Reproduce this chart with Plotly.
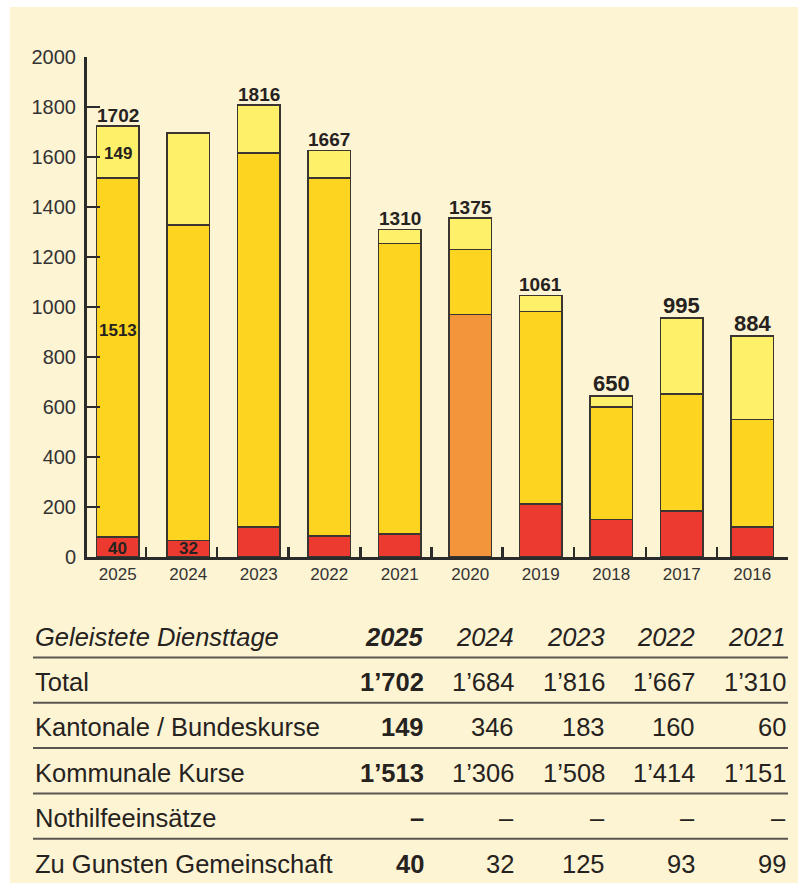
import plotly.graph_objects as go

# ---------------- data ----------------
years = ["2025", "2024", "2023", "2022", "2021", "2020", "2019", "2018", "2017", "2016"]
# segment heights as drawn in the chart
zu_gunsten = [80, 67, 120, 84, 93, 0, 213, 151, 184, 120]          # red
nothilfe = [0, 0, 0, 0, 0, 970, 0, 0, 0, 0]                         # orange
kommunale = [1436, 1262, 1496, 1432, 1161, 260, 770, 449, 468, 431]  # yellow
kantonale = [208, 368, 192, 111, 57, 126, 64, 45, 304, 333]         # light yellow
total_labels = ["1702", "", "1816", "1667", "1310", "1375", "1061", "650", "995", "884"]

# labels written inside the 2025 / 2024 bars: (year, value position, text)
inside_years = ["2025", "2025", "2025", "2024"]
inside_pos = [1614, 907, 35, 33]
inside_text = ["149", "1513", "40", "32"]

y_ticks = [0, 200, 400, 600, 800, 1000, 1200, 1400, 1600, 1800, 2000]

# table
table_title = "Geleistete Diensttage"
table_years = ["2025", "2024", "2023", "2022", "2021"]
row_labels = ["Total", "Kantonale / Bundeskurse", "Kommunale Kurse", "Nothilfeeinsätze", "Zu Gunsten Gemeinschaft"]
row_total = ["1’702", "1’684", "1’816", "1’667", "1’310"]
row_kantonale = ["149", "346", "183", "160", "60"]
row_kommunale = ["1’513", "1’306", "1’508", "1’414", "1’151"]
row_nothilfe = ["–", "–", "–", "–", "–"]
row_zugunsten = ["40", "32", "125", "93", "99"]

# ---------------- styling ----------------
W, H = 798, 883
ML, MR, MT, MB = 87, 10, 57, 326
PW, PH = W - ML - MR, H - MT - MB
BG = "#FDF4D4"
INK = "#262220"
EDGE = "#3a3530"
C_RED = "#EC3A30"
C_ORANGE = "#F3953A"
C_YELLOW = "#FDD520"
C_LIGHT = "#FFF06A"
SANS = "Liberation Sans, Arial, Helvetica, sans-serif"
wide_label_years = {"2018", "2017", "2016"}


def px_x(px):
    return (px - ML) / PW


def px_y(py):
    return (MT + PH - py) / PH


xs = list(range(len(years)))
fig = go.Figure()
for vals, col, name in [(zu_gunsten, C_RED, "Zu Gunsten Gemeinschaft"),
                        (nothilfe, C_ORANGE, "Nothilfeeinsätze"),
                        (kommunale, C_YELLOW, "Kommunale Kurse"),
                        (kantonale, C_LIGHT, "Kantonale / Bundeskurse")]:
    fig.add_trace(go.Bar(x=xs, y=vals, name=name, width=0.6,
                         marker=dict(color=col, line=dict(color=EDGE, width=1.5)),
                         hoverinfo="skip"))

# invisible trace for the second x axis (between-category tick marks)
fig.add_trace(go.Scatter(x=[0], y=[0], xaxis="x2", mode="markers",
                         marker=dict(opacity=0), hoverinfo="skip", showlegend=False))

annotations = []
totals = [a + b + c + d for a, b, c, d in zip(zu_gunsten, nothilfe, kommunale, kantonale)]
for i, (yr, t, lab) in enumerate(zip(years, totals, total_labels)):
    if not lab:
        continue
    if yr in wide_label_years:
        f = dict(family=SANS, size=22, color=INK, weight="bold")
    else:
        f = dict(family=SANS, size=19, color=INK, weight="bold")
    annotations.append(dict(x=i, y=t, xref="x", yref="y", text=lab, showarrow=False,
                            yanchor="bottom", yshift=-2, font=f))

for yr, pos, txt in zip(inside_years, inside_pos, inside_text):
    annotations.append(dict(x=years.index(yr), y=pos, xref="x", yref="y", text=txt,
                            showarrow=False, yanchor="middle",
                            font=dict(family=SANS, size=17, color=INK, weight="bold")))

# table
row_py = [637, 681.7, 727.3, 772.7, 818.2, 863.8]
col_right = [426, 516, 606.5, 697, 788]
line_py = [657.5, 702.8, 748.1, 793.4, 838.7]
TF = 25.5

annotations.append(dict(x=px_x(33), y=px_y(row_py[0]), xref="paper", yref="paper",
                        text="<i>" + table_title + "</i>", showarrow=False,
                        xanchor="left", yanchor="middle",
                        font=dict(family=SANS, size=TF, color=INK)))
for j, yr in enumerate(table_years):
    txt = "<b><i>" + yr + "</i></b>" if j == 0 else "<i>" + yr + "</i>"
    annotations.append(dict(x=px_x(col_right[j]), y=px_y(row_py[0]), xref="paper", yref="paper",
                            text=txt, showarrow=False, xanchor="right", yanchor="middle",
                            font=dict(family=SANS, size=TF, color=INK)))

rows = [row_total, row_kantonale, row_kommunale, row_nothilfe, row_zugunsten]
for r, (lab, vals) in enumerate(zip(row_labels, rows)):
    py = row_py[r + 1]
    annotations.append(dict(x=px_x(33), y=px_y(py), xref="paper", yref="paper",
                            text=lab, showarrow=False, xanchor="left", yanchor="middle",
                            font=dict(family=SANS, size=TF, color=INK)))
    for j, v in enumerate(vals):
        txt = "<b>" + v + "</b>" if j == 0 else v
        annotations.append(dict(x=px_x(col_right[j]), y=px_y(py), xref="paper", yref="paper",
                                text=txt, showarrow=False, xanchor="right", yanchor="middle",
                                font=dict(family=SANS, size=TF, color=INK)))

shapes = [dict(type="rect", xref="paper", yref="paper", layer="below",
               x0=px_x(10), x1=px_x(900), y0=px_y(1000), y1=px_y(7),
               fillcolor=BG, line=dict(width=0))]
for ly in line_py:
    shapes.append(dict(type="line", xref="paper", yref="paper",
                       x0=px_x(33), x1=px_x(788), y0=px_y(ly), y1=px_y(ly),
                       line=dict(color="#5a5550", width=2)))

xr = [-0.436, 9.507]
sep_ticks = [0.40, 1.41, 2.42, 3.44, 4.45, 5.46, 6.47, 7.49, 8.50, 9.507]

fig.update_layout(
    width=W, height=H,
    margin=dict(l=ML, r=MR, t=MT, b=MB, pad=0),
    paper_bgcolor="white", plot_bgcolor="rgba(0,0,0,0)",
    barmode="stack", showlegend=False,
    xaxis=dict(range=xr, tickmode="array", tickvals=xs, ticktext=years,
               ticks="", showline=True, linewidth=3, linecolor="#2b2b2b",
               showgrid=False, zeroline=False, ticklabelstandoff=0,
               tickfont=dict(family=SANS, size=17, color="#333333")),
    xaxis2=dict(range=xr, overlaying="x", anchor="y", side="bottom",
                tickmode="array", tickvals=sep_ticks, ticks="inside", ticklen=10,
                tickwidth=2.5, tickcolor="#2b2b2b", showticklabels=False,
                showline=False, showgrid=False, zeroline=False),
    yaxis=dict(range=[0, 2000], tickmode="array", tickvals=y_ticks,
               ticks="inside", ticklen=13, tickwidth=2.5, tickcolor="#2b2b2b",
               showline=True, linewidth=3, linecolor="#2b2b2b",
               showgrid=False, zeroline=False, ticklabelstandoff=4,
               tickfont=dict(family=SANS, size=20, color="#333333")),
    annotations=annotations, shapes=shapes,
)

# remove the default page margin so the figure fills the 798x883 window exactly
fig.write_html("out.html", config={"displayModeBar": False, "staticPlot": True},
               post_script="document.body.style.margin='0';document.body.style.overflow='hidden';")
